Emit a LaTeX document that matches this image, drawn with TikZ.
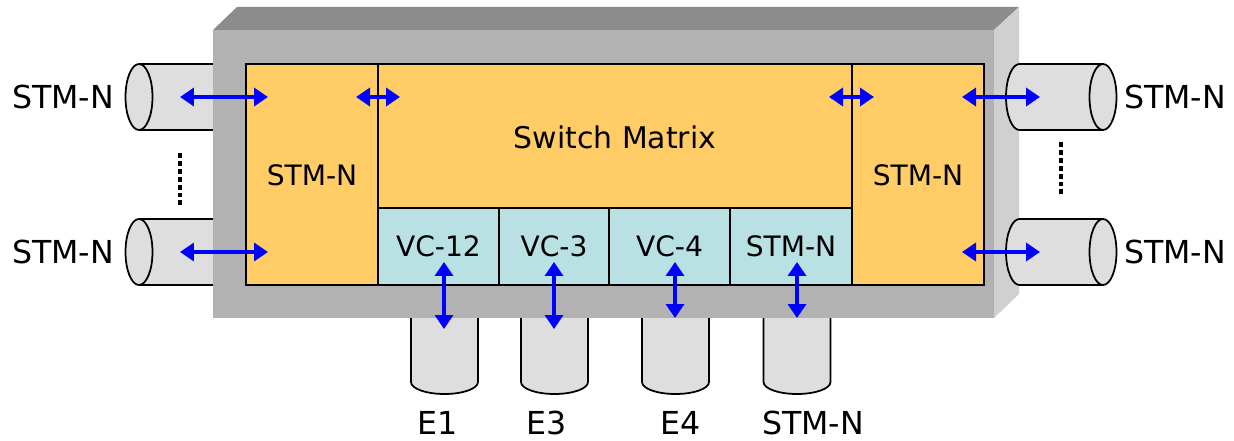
\documentclass[tikz,border=0pt]{standalone}
\usepackage{fontspec}
\setmainfont{DejaVu Sans}
\usetikzlibrary{arrows.meta}
\definecolor{boxfront}{HTML}{B2B2B2}
\definecolor{boxtop}{HTML}{8C8C8C}
\definecolor{boxside}{HTML}{D0D0D0}
\definecolor{cylgray}{HTML}{DEDEDE}
\definecolor{cardorange}{HTML}{FFCC66}
\definecolor{vcblue}{HTML}{B9E0E3}
\tikzset{
	cyl/.style={fill=cylgray,draw=black,line width=1pt},
	card/.style={fill=cardorange,draw=black,line width=1pt},
	vc/.style={fill=vcblue,draw=black,line width=1pt},
	sig/.style={{Triangle[length=0.28cm,width=0.36cm]}-{Triangle[length=0.28cm,width=0.36cm]},blue,line width=2.7pt},
	dots/.style={line width=1.8pt,dash pattern=on 2.8pt off 1.7pt},
	outlbl/.style={font=\fontsize{18}{20}\selectfont,inner sep=1pt},
	inlbl/.style={font=\fontsize{16}{18}\selectfont}
}
\begin{document}
\begin{tikzpicture}[x=0.02cm,y=0.02cm]
	\useasboundingbox (0,0) rectangle (1234,440);
	%cables behind the box
	\foreach \y in {343,188}{
		\fill[cylgray] (139,\y-33) rectangle (220,\y+33);
		\draw[line width=1pt] (139,\y+33) -- (220,\y+33) (139,\y-33) -- (220,\y-33);
		\filldraw[cyl] (139,\y) ellipse [x radius=13.5,y radius=33]; }
	\foreach \x in {444.5,554.5,675.5,797}{
		\filldraw[cyl] (\x-33.5,135) -- (\x-33.5,58) arc (180:360:33.5 and 12) -- (\x+33.5,135); }
	%box
	\fill[boxtop] (213,410) -- (237,433) -- (1019,433) -- (994,410) -- cycle;
	\fill[boxside] (994,410) -- (1019,433) -- (1019,146) -- (994,122) -- cycle;
	\fill[boxfront] (213,122) rectangle (994,410);
	%cards
	\draw[card] (246,155) rectangle (378,376);
	\draw[card] (378,232) rectangle (852,376);
	\draw[card] (852,155) rectangle (984,376);
	\draw[vc] (378,155) rectangle (499,232);
	\draw[vc] (499,155) rectangle (609,232);
	\draw[vc] (609,155) rectangle (730,232);
	\draw[vc] (730,155) rectangle (852,232);
	\node[inlbl] (lcard) at (312,265) {STM-N};
	\node[inlbl] (rcard) at (918,265) {STM-N};
	\node[font=\fontsize{17}{19}\selectfont] (matrix) at (615,303) {Switch Matrix};
	\node[inlbl] (vc12) at (438.5,194) {VC-12};
	\node[inlbl] (vc3) at (554,194) {VC-3};
	\node[inlbl] (vc4) at (669.5,194) {VC-4};
	\node[inlbl] (vcstm) at (791,194) {STM-N};
	%cables in front of the side face
	\foreach \y in {343,188}{
		\filldraw[cyl] (1103,\y+33) -- (1019.5,\y+33) arc (90:270:13.5 and 33) -- (1103,\y-33);
		\filldraw[cyl] (1103,\y) ellipse [x radius=13.5,y radius=33]; }
	\draw[dots] (180,287) -- (180,233);
	\draw[dots] (1061,298) -- (1061,243);
	%labels
	\node[outlbl] (in1) at (63,343) {STM-N};
	\node[outlbl] (in2) at (63,188) {STM-N};
	\node[outlbl] (out1) at (1175,343) {STM-N};
	\node[outlbl] (out2) at (1175,188) {STM-N};
	\node[outlbl] (e1) at (438,17) {E1};
	\node[outlbl] (e3) at (547,17) {E3};
	\node[outlbl] (e4) at (681,17) {E4};
	\node[outlbl] (stm) at (813,17) {STM-N};
	%arrows
	\foreach \n/\a/\b/\y in {la/180/268/343,lb/180/268/188,ma/356/400/343,mb/829/874/343,ra/962/1040/343,rb/962/1040/188}{
		\coordinate (\n1) at (\a,\y);
		\coordinate (\n2) at (\b,\y);
		\draw[sig] (\n1) -- (\n2); }
	\foreach \n/\x/\b in {da/444/111,db/554/111,dc/675/122,dd/797/122}{
		\coordinate (\n1) at (\x,178);
		\coordinate (\n2) at (\x,\b);
		\draw[sig] (\n1) -- (\n2); }
\end{tikzpicture}
\end{document}
